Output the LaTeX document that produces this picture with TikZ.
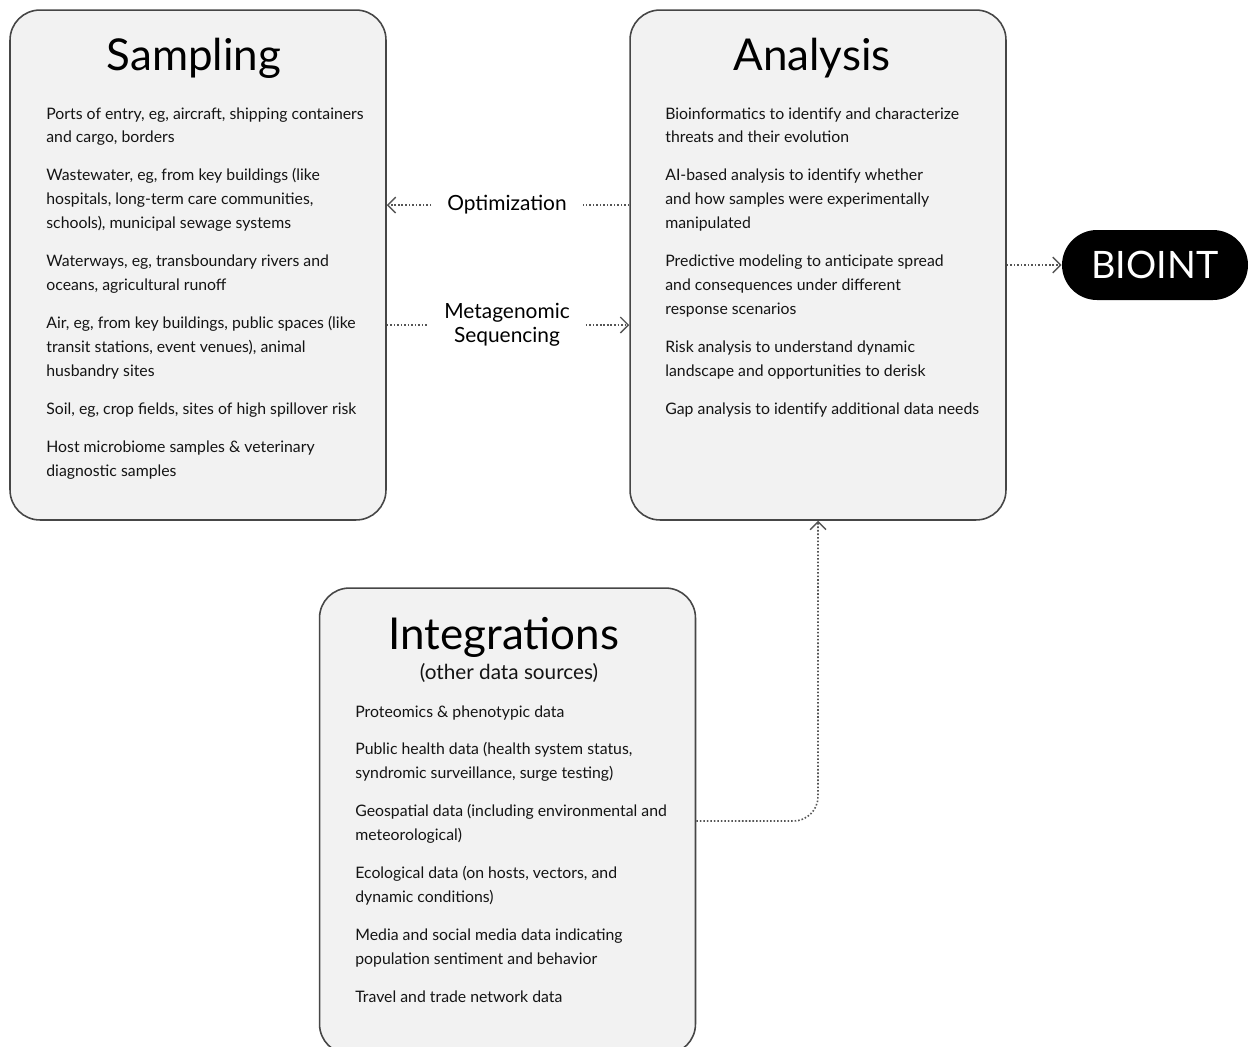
\documentclass[tikz,border=0pt]{standalone}
\usepackage{fontspec}
\setmainfont{Lato}
\usepackage{tikz}
\usetikzlibrary{arrows.meta, positioning}
\definecolor{panelgray}{RGB}{242, 242, 242}
\definecolor{edgegray}{RGB}{70, 70, 70}
\definecolor{inkgray}{RGB}{20, 20, 20}
\definecolor{dotgray}{RGB}{85, 85, 85}

\begin{document}
\begin{tikzpicture}[
      x=0.02cm, y=-0.02cm,
      panel/.style={draw=edgegray, line width=0.9pt, fill=panelgray,
                    rounded corners=17pt, minimum width=7.52cm, minimum height=10.2cm},
      paneltitle/.style={font=\fontsize{25}{28}\selectfont, text=black, inner sep=0pt},
      subtitle/.style={font=\fontsize{11.8}{14}\selectfont, text=inkgray, inner sep=0pt},
      itemlist/.style={anchor=north west, inner sep=0pt, align=left, text=inkgray,
                       font=\fontsize{9}{13.6}\selectfont},
      flowlabel/.style={font=\fontsize{11.9}{13.6}\selectfont, align=center, inner xsep=9pt},
      flow/.style={dotgray, line width=0.9pt, dash pattern=on 0.9pt off 1.1pt,
                   -{Straight Barb[length=4.5pt, width=9pt, line width=0.8pt, sep=0pt]}},
      outcome/.style={fill=black, text=white, rounded corners=0.7cm,
                      minimum width=3.72cm, minimum height=1.4cm,
                      font=\fontsize{21.5}{24}\selectfont}
    ]
    \path[fill=white, use as bounding box] (0,0) rectangle (1250,1046);

    %% Panels
    \node[panel] (sampling) at (198,265) {};
    \node[panel] (analysis) at (818,265) {};
    \node[panel, minimum height=9.32cm] (integrations) at (507.5,821) {};

    \node[paneltitle] (samplingtitle) at (194,58) {Sampling};
    \node[paneltitle] (analysistitle) at (812,58) {Analysis};
    \node[paneltitle] (integrationstitle) at (504,637) {Integrations};
    \node[subtitle] (integrationssub) at (509,673) {(other data sources)};

    \node[itemlist] (samplingitems) at (46,107) {%
      Ports of entry, eg, aircraft, shipping containers\\
      and cargo, borders\\[8pt]
      Wastewater, eg, from key buildings (like\\
      hospitals, long-term care communities,\\
      schools), municipal sewage systems\\[8pt]
      Waterways, eg, transboundary rivers and\\
      oceans, agricultural runoff\\[8pt]
      Air, eg, from key buildings, public spaces (like\\
      transit stations, event venues), animal\\
      husbandry sites\\[8pt]
      Soil, eg, crop fields, sites of high spillover risk\\[8pt]
      Host microbiome samples \& veterinary\\
      diagnostic samples};

    \node[itemlist] (analysisitems) at (665,107) {%
      Bioinformatics to identify and characterize\\
      threats and their evolution\\[8pt]
      AI-based analysis to identify whether\\
      and how samples were experimentally\\
      manipulated\\[8pt]
      Predictive modeling to anticipate spread\\
      and consequences under different\\
      response scenarios\\[8pt]
      Risk analysis to understand dynamic\\
      landscape and opportunities to derisk\\[8pt]
      Gap analysis to identify additional data needs};

    \node[itemlist] (integrationsitems) at (355,705) {%
      Proteomics \& phenotypic data\\[8pt]
      Public health data (health system status,\\
      syndromic surveillance, surge testing)\\[8pt]
      Geospatial data (including environmental and\\
      meteorological)\\[8pt]
      Ecological data (on hosts, vectors, and\\
      dynamic conditions)\\[8pt]
      Media and social media data indicating\\
      population sentiment and behavior\\[8pt]
      Travel and trade network data};

    %% Flows between panels
    \node[flowlabel] (optlabel) at (507,205) {Optimization};
    \node[flowlabel] (metalabel) at (507,325) {Metagenomic\\Sequencing};
    \node[outcome] (bioint) at (1155,265) {BIOINT};

    \draw[flow, -] (optlabel.east -| analysis.west) -- (optlabel.east);
    \draw[flow] (optlabel.west) -- (optlabel.west -| sampling.east);
    \draw[flow, -] (metalabel.west -| sampling.east) -- (metalabel.west);
    \draw[flow] (metalabel.east) -- (metalabel.east -| analysis.west);
    \draw[flow] (bioint.west -| analysis.east) -- (bioint.west);
    \draw[flow, rounded corners=14pt] (integrations.east) -| (analysis.south);
  \end{tikzpicture}
\end{document}
